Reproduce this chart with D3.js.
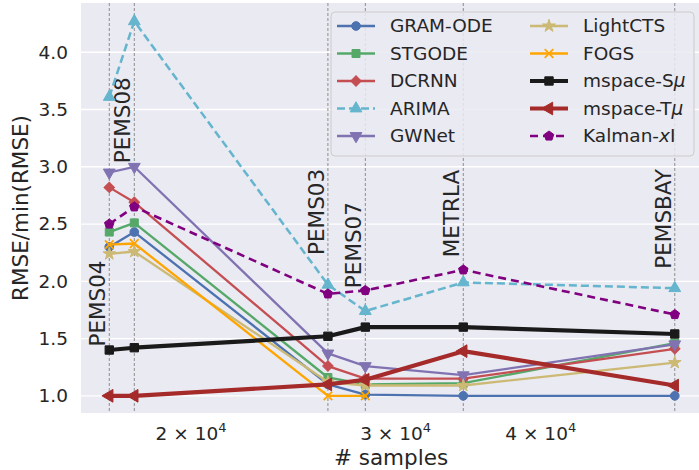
<!DOCTYPE html>
<html>
<head>
<meta charset="utf-8">
<script src="https://cdn.jsdelivr.net/npm/d3@7"></script>
<style>
  body { margin: 0; background: #fff; }
  svg { display: block; font-family: 'DejaVu Sans', sans-serif; }
</style>
</head>
<body>
<div id="wrapper"></div>
<script>
// datasets along the x axis (number of samples, log scale)
const datasets = ['PEMS04', 'PEMS08', 'PEMS03', 'PEMS07', 'METRLA', 'PEMSBAY']
const samples = [16992, 17856, 26208, 28224, 34272, 52116]
// where each dataset name sits (in RMSE/min(RMSE) units)
const labelAt = [1.43, 3.03, 2.23, 1.94, 2.21, 2.11]

// RMSE / min(RMSE), one value per dataset
const gramOde = [2.30, 2.43, 1.10, 1.01, 1.00, 1.00]
const stgode = [2.43, 2.51, 1.16, 1.10, 1.11, 1.46]
const dcrnn = [2.82, 2.69, 1.26, 1.15, 1.15, 1.41]
const arima = [3.61, 4.27, 1.97, 1.74, 1.99, 1.94]
const gwnet = [2.95, 3.00, 1.37, 1.26, 1.18, 1.45]
const lightcts = [2.24, 2.26, 1.12, 1.09, 1.09, 1.29]
const fogs = [2.32, 2.33, 1.00, 1.00, null, null]
const mspaceS = [1.40, 1.42, 1.52, 1.60, 1.60, 1.54]
const mspaceT = [1.00, 1.00, 1.10, 1.14, 1.39, 1.09]
const kalman = [2.50, 2.65, 1.89, 1.92, 2.10, 1.71]

const xTicks = [20000, 30000, 40000]
const yTicks = [1.0, 1.5, 2.0, 2.5, 3.0, 3.5, 4.0]

// custom marker shapes
const pentagon = {
    draw(ctx, size) {
        const r = Math.sqrt(size / 2.378)
        for (let k = 0; k < 5; k++) {
            const a = -Math.PI / 2 + k * 2 * Math.PI / 5
            const px = r * Math.cos(a), py = r * Math.sin(a)
            if (k === 0) ctx.moveTo(px, py); else ctx.lineTo(px, py)
        }
        ctx.closePath()
    }
}

const series = [
    { name: 'GRAM-ODE', values: gramOde, color: '#4C72B0', symbol: d3.symbolCircle, size: 60, width: 2.3 },
    { name: 'STGODE', values: stgode, color: '#55A868', symbol: d3.symbolSquare, size: 64, width: 2.3 },
    { name: 'DCRNN', values: dcrnn, color: '#C44E52', symbol: d3.symbolSquare, size: 55, rotate: 45, width: 2.3 },
    { name: 'ARIMA', values: arima, color: '#64B5CD', symbol: d3.symbolTriangle, size: 60, width: 2.5, dash: '8,4' },
    { name: 'GWNet', values: gwnet, color: '#8172B2', symbol: d3.symbolTriangle, size: 60, rotate: 180, width: 2.3 },
    { name: 'LightCTS', values: lightcts, color: '#CCB974', symbol: d3.symbolStar, size: 50, width: 2.3 },
    { name: 'FOGS', values: fogs, color: '#FFA500', symbol: d3.symbolX, size: 50, width: 2.3, stroke: true },
    { name: 'mspace-S', sub: 'μ', values: mspaceS, color: '#1a1a1a', symbol: d3.symbolSquare, size: 70, width: 4.2 },
    { name: 'mspace-T', sub: 'μ', values: mspaceT, color: '#A52A2A', symbol: d3.symbolTriangle, size: 70, rotate: -90, width: 4.2 },
    { name: 'Kalman-', sub: 'x', tail: 'I', values: kalman, color: '#800080', symbol: pentagon, size: 60, width: 2.6, dash: '8,5' }
]

const width = 699
const height = 470
const dms = { left: 81, top: 3, right: 703, bottom: 413 }

const svg = d3.select('#wrapper')
    .append('svg')
    .attr('width', width)
    .attr('height', height)

const xScale = d3.scaleLog()
    .domain([16066, 55115])
    .range([dms.left, dms.right])

const yScale = d3.scaleLinear()
    .domain([0.85, 4.43])
    .range([dms.bottom, dms.top])

// plot background
svg.append('rect')
    .attr('x', dms.left)
    .attr('y', dms.top)
    .attr('width', dms.right - dms.left)
    .attr('height', dms.bottom - dms.top)
    .attr('fill', '#EAEAF2')

// horizontal grid
svg.append('g')
    .selectAll('line')
    .data(yTicks)
    .join('line')
    .attr('x1', dms.left)
    .attr('x2', dms.right)
    .attr('y1', d => yScale(d))
    .attr('y2', d => yScale(d))
    .attr('stroke', '#fff')
    .attr('stroke-width', 1.3)

// y axis
const yAxis = svg.append('g')
    .attr('transform', `translate(${dms.left - 13},0)`)
    .call(d3.axisLeft(yScale).tickValues(yTicks).tickFormat(d3.format('.1f')).tickSize(0).tickPadding(0))
yAxis.select('.domain').remove()
yAxis.selectAll('text')
    .style('font-size', '18.5px')
    .style('font-family', 'DejaVu Sans')
    .attr('fill', '#262626')

// x axis
const xAxis = svg.append('g')
    .attr('transform', `translate(0,${dms.bottom})`)
    .call(d3.axisBottom(xScale).tickValues(xTicks).tickSize(0).tickFormat(''))
xAxis.select('.domain').remove()
const xText = xAxis.selectAll('.tick')
    .append('text')
    .attr('x', -1)
    .attr('y', 27)
    .attr('text-anchor', 'middle')
    .attr('fill', '#262626')
    .style('font-size', '18.5px')
    .style('font-family', 'DejaVu Sans')
xText.append('tspan').text(d => `${d / 10000} × 10`)
xText.append('tspan').attr('dy', -8).style('font-size', '13px').text('4')

// vertical dashed lines at datasets
svg.append('g')
    .selectAll('line')
    .data(samples)
    .join('line')
    .attr('x1', d => xScale(d))
    .attr('x2', d => xScale(d))
    .attr('y1', dms.top)
    .attr('y2', dms.bottom)
    .attr('stroke', '#8c8c8c')
    .attr('stroke-width', 1)
    .attr('stroke-dasharray', '3,2')

// dataset names
svg.append('g')
    .selectAll('text')
    .data(datasets)
    .join('text')
    .attr('transform', (d, i) => `translate(${xScale(samples[i]) - 4},${yScale(labelAt[i])}) rotate(-90)`)
    .attr('fill', '#262626')
    .style('font-size', '21.5px')
    .text(d => d)

const symbolPath = s => d3.symbol().type(s.symbol).size(s.size)()

const markerStyle = (sel, s) => sel
    .attr('d', symbolPath(s))
    .attr('fill', s.stroke ? 'none' : s.color)
    .attr('stroke', s.color)
    .attr('stroke-width', s.stroke ? 1.8 : 1)

// lines and markers
series.forEach(s => {
    const pts = s.values.map((v, i) => ({ x: samples[i], y: v })).filter(p => p.y !== null)
    const line = d3.line()
        .x(p => xScale(p.x))
        .y(p => yScale(p.y))
    const g = svg.append('g')
    g.append('path')
        .datum(pts)
        .attr('d', line)
        .attr('fill', 'none')
        .attr('stroke', s.color)
        .attr('stroke-width', s.width)
        .attr('stroke-dasharray', s.dash || null)
        .attr('stroke-linejoin', 'round')
    g.selectAll('path.mk')
        .data(pts)
        .join('path')
        .attr('class', 'mk')
        .call(markerStyle, s)
        .attr('transform', p => `translate(${xScale(p.x)},${yScale(p.y)}) rotate(${s.rotate || 0})`)
})

// legend
const legend = svg.append('g')
legend.append('rect')
    .attr('x', 331)
    .attr('y', 12)
    .attr('width', 363)
    .attr('height', 144)
    .attr('rx', 4)
    .attr('fill', '#EAEAF2')
    .attr('fill-opacity', 0.85)
    .attr('stroke', '#cccccc')
    .attr('stroke-width', 1)

series.forEach((s, i) => {
    const col = Math.floor(i / 5)
    const row = i % 5
    const x0 = col === 0 ? 337 : 530
    const y0 = 26 + row * 27.5
    const item = legend.append('g').attr('transform', `translate(${x0},${y0})`)
    item.append('line')
        .attr('x1', 0)
        .attr('x2', 38)
        .attr('stroke', s.color)
        .attr('stroke-width', s.width)
        .attr('stroke-dasharray', s.dash || null)
    item.append('path')
        .call(markerStyle, s)
        .attr('transform', `translate(19,0) rotate(${s.rotate || 0})`)
    const t = item.append('text')
        .attr('x', 53)
        .attr('dy', '0.35em')
        .attr('fill', '#262626')
        .style('font-size', '18.5px')
    t.append('tspan').text(s.name)
    if (s.sub) t.append('tspan').style('font-style', 'italic').text(s.sub)
    if (s.tail) t.append('tspan').text(s.tail)
})

// axis labels
svg.append('text')
    .attr('x', (dms.left + 699) / 2 + 1)
    .attr('y', 465)
    .attr('text-anchor', 'middle')
    .attr('fill', '#262626')
    .style('font-size', '21.5px')
    .text('# samples')

svg.append('text')
    .attr('transform', `translate(28,${(dms.top + dms.bottom) / 2}) rotate(-90)`)
    .attr('text-anchor', 'middle')
    .attr('fill', '#262626')
    .style('font-size', '21.5px')
    .text('RMSE/min(RMSE)')
</script>
</body>
</html>
